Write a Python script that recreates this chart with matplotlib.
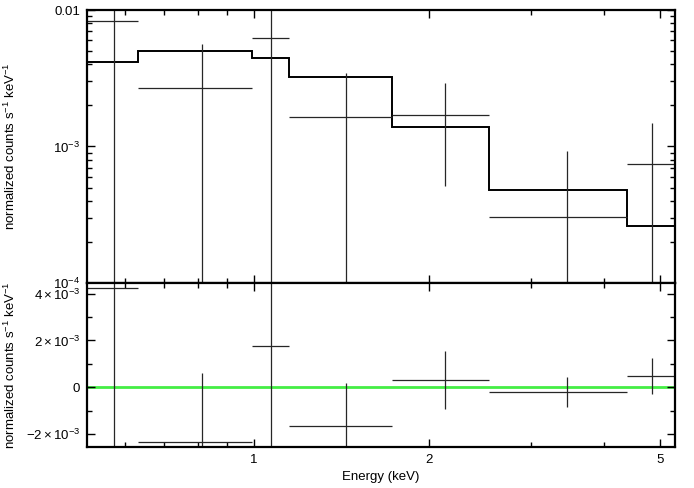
import numpy as np
import matplotlib
matplotlib.use("Agg")
import matplotlib.pyplot as plt
from matplotlib.ticker import FixedLocator, FixedFormatter, NullFormatter

plt.rcParams['font.family'] = ['Liberation Sans', 'DejaVu Sans']
plt.rcParams['mathtext.fontset'] = 'custom'
plt.rcParams['mathtext.rm'] = 'Liberation Sans'
plt.rcParams['mathtext.it'] = 'Liberation Sans'

# energy bins (keV)
bin_edges = [0.516, 0.632, 0.993, 1.147, 1.729, 2.533, 4.375, 5.30]
bin_centers = [0.574, 0.8125, 1.070, 1.438, 2.131, 3.454, 4.84]

# data counts and errors
counts = [8.3e-3, 2.68e-3, 6.21e-3, 1.65e-3, 1.71e-3, 3.03e-4, 7.48e-4]
count_err = [9.0e-3, 2.96e-3, 6.5e-3, 1.82e-3, 1.2e-3, 6.3e-4, 7.5e-4]

# folded model
model = [4.14e-3, 5.01e-3, 4.47e-3, 3.25e-3, 1.40e-3, 4.83e-4, 2.62e-4]

# residuals (data - model)
resid = [4.26e-3, -2.36e-3, 1.76e-3, -1.64e-3, 0.30e-3, -0.21e-3, 0.48e-3]
resid_err = [9.0e-3, 2.95e-3, 6.5e-3, 1.84e-3, 1.25e-3, 0.64e-3, 0.77e-3]

xlo = np.array(bin_centers) - np.array(bin_edges[:-1])
xhi = np.array(bin_edges[1:]) - np.array(bin_centers)

fig = plt.figure(figsize=(6.94, 4.88), dpi=100)
ax1 = fig.add_axes([0.1254, 0.4201, 0.8472, 0.5594])
ax2 = fig.add_axes([0.1254, 0.0830, 0.8472, 0.3371], sharex=ax1)

ecol = '0.15'
ax1.errorbar(bin_centers, counts, xerr=[xlo, xhi], yerr=count_err, fmt='none',
             ecolor=ecol, elinewidth=0.9, capsize=0)
ax1.stairs(model, bin_edges, color='black', lw=1.4, baseline=None)

ax2.axhline(0, color='#44ee44', lw=2, zorder=1)
ax2.errorbar(bin_centers, resid, xerr=[xlo, xhi], yerr=resid_err, fmt='none',
             ecolor=ecol, elinewidth=0.9, capsize=0, zorder=2)

ax1.set_xscale('log')
ax1.set_xlim(bin_edges[0], bin_edges[-1])
ax1.set_yscale('log')
ax1.set_ylim(1e-4, 1e-2)
ax2.set_ylim(-2.58e-3, 4.46e-3)

fs = 9.5
# x ticks
ax2.xaxis.set_major_locator(FixedLocator([1, 2, 5]))
ax2.xaxis.set_major_formatter(FixedFormatter(['1', '2', '5']))
ax2.xaxis.set_minor_locator(FixedLocator([0.6, 0.7, 0.8, 0.9, 3, 4]))
ax2.xaxis.set_minor_formatter(NullFormatter())
plt.setp(ax1.get_xticklabels(), visible=False)

# y ticks, top panel
ax1.yaxis.set_major_locator(FixedLocator([1e-4, 1e-3, 1e-2]))
ax1.yaxis.set_major_formatter(FixedFormatter([r'$10^{-4}$', r'$10^{-3}$', '0.01']))
ax1.yaxis.set_minor_locator(FixedLocator([k * 10.0 ** e for e in (-4, -3) for k in range(2, 10)]))
ax1.yaxis.set_minor_formatter(NullFormatter())

# y ticks, residual panel
ax2.yaxis.set_major_locator(FixedLocator([-2e-3, 0, 2e-3, 4e-3]))
ax2.yaxis.set_major_formatter(FixedFormatter([r'$-2\times10^{-3}$', '0',
                                              r'$2\times10^{-3}$', r'$4\times10^{-3}$']))
ax2.yaxis.set_minor_locator(FixedLocator([-1e-3, 1e-3, 3e-3]))

for ax in (ax1, ax2):
    ax.tick_params(which='both', direction='in', top=True, right=True,
                   labelsize=fs, width=1.0, pad=5)
    ax.tick_params(which='major', length=6)
    ax.tick_params(which='minor', length=3.5)
    for sp in ax.spines.values():
        sp.set_linewidth(1.6)

ylab = 'normalized counts s$^{-1}$ keV$^{-1}$'
ax1.set_ylabel(ylab, fontsize=fs)
ax2.set_ylabel(ylab, fontsize=fs)
ax1.yaxis.set_label_coords(-0.117, 0.5)
ax2.yaxis.set_label_coords(-0.117, 0.5)
ax2.set_xlabel('Energy (keV)', fontsize=fs, labelpad=3)

fig.savefig('out.png', dpi=100)
